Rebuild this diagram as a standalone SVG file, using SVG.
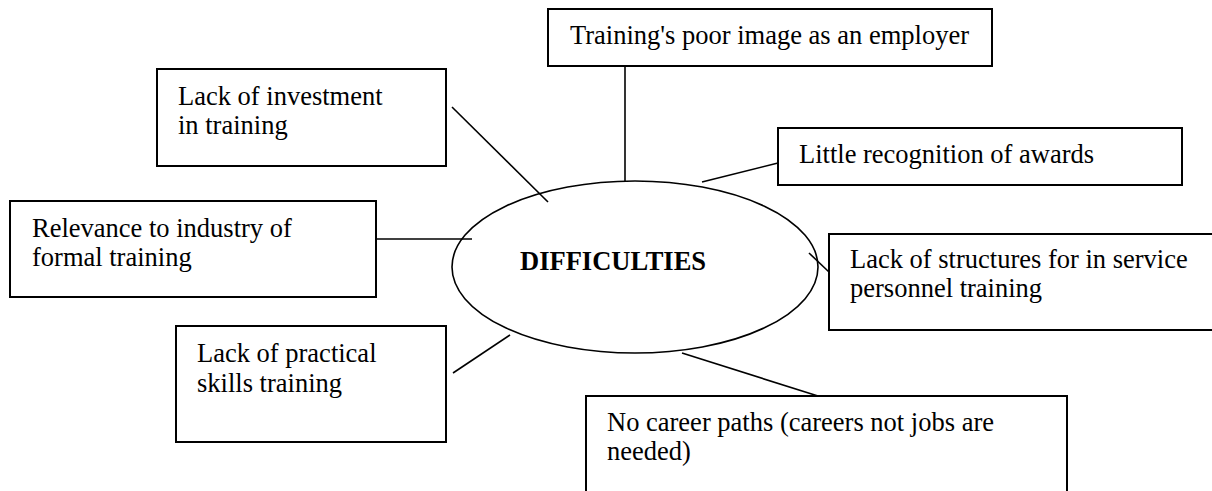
<svg xmlns="http://www.w3.org/2000/svg" width="1212" height="491" viewBox="0 0 1212 491">
<style>
.box{fill:#fff;stroke:#000;stroke-width:2}
.t{font-family:"Liberation Serif","Times New Roman",serif;font-size:26.5px;fill:#000}
.b{font-family:"Liberation Serif","Times New Roman",serif;font-size:26.5px;font-weight:bold;fill:#000}
.c{stroke:#000;stroke-width:1.6;fill:none}
</style>
<rect width="1212" height="491" fill="#fff"/>
<g id="connectors">
<line class="c" x1="625" y1="66" x2="625" y2="182"/>
<line class="c" x1="452" y1="107" x2="548" y2="202"/>
<line class="c" x1="376" y1="239" x2="472" y2="239"/>
<line class="c" x1="778" y1="163" x2="702" y2="182"/>
<line class="c" x1="809" y1="253" x2="829" y2="272"/>
<line class="c" x1="453" y1="373" x2="510" y2="335"/>
<line class="c" x1="682" y1="353" x2="818" y2="396"/>
</g>
<g id="center">
<ellipse cx="635" cy="267" rx="183" ry="86" fill="none" stroke="#000" stroke-width="1.6"/>
<text class="b" x="520" y="270">DIFFICULTIES</text>
</g>
<g id="n-image">
<rect class="box" x="548" y="9" width="444" height="57"/>
<text class="t" x="570" y="44">Training's poor image as an employer</text>
</g>
<g id="n-investment">
<rect class="box" x="157" y="69" width="289" height="97"/>
<text class="t" x="178" y="105">Lack of investment</text>
<text class="t" x="178" y="134">in training</text>
</g>
<g id="n-relevance">
<rect class="box" x="10" y="201" width="366" height="96"/>
<text class="t" x="32" y="237">Relevance to industry of</text>
<text class="t" x="32" y="266">formal training</text>
</g>
<g id="n-recognition">
<rect class="box" x="778" y="128" width="404" height="57"/>
<text class="t" x="799" y="163">Little recognition of awards</text>
</g>
<g id="n-structures">
<rect class="box" x="829" y="234" width="390" height="96"/>
<text class="t" x="850" y="268">Lack of structures for in service</text>
<text class="t" x="850" y="297">personnel training</text>
</g>
<g id="n-practical">
<rect class="box" x="176" y="326" width="270" height="116"/>
<text class="t" x="197" y="362">Lack of practical</text>
<text class="t" x="197" y="392">skills training</text>
</g>
<g id="n-career">
<rect class="box" x="586" y="396" width="481" height="110"/>
<text class="t" x="607" y="431">No career paths (careers not jobs are</text>
<text class="t" x="607" y="460">needed)</text>
</g>
</svg>
